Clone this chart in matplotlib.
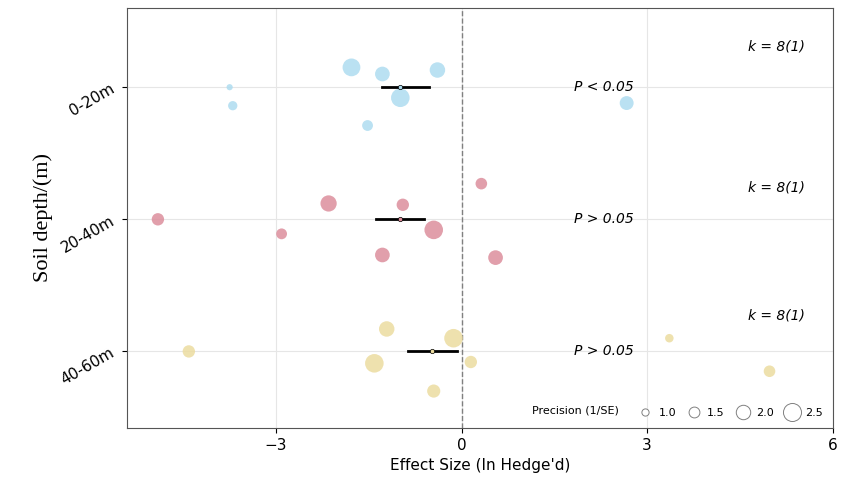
import numpy as np
import matplotlib.pyplot as plt
from matplotlib.lines import Line2D

depths = ["40-60m", "20-40m", "0-20m"]

# effect sizes, y positions (jittered around group level), precision (1/SE)
blue_x = [-1.78, -1.28, -0.39, -0.99, -3.75, -3.70, -1.52, 2.67]
blue_y = [3.15, 3.10, 3.13, 2.92, 3.00, 2.86, 2.71, 2.88]
blue_p = [2.3, 1.9, 2.0, 2.4, 0.8, 1.2, 1.4, 1.8]

red_x = [0.32, -2.15, -0.95, -4.91, -2.91, -0.45, -1.28, 0.55]
red_y = [2.27, 2.12, 2.11, 2.00, 1.89, 1.92, 1.73, 1.71]
red_p = [1.5, 2.1, 1.6, 1.6, 1.4, 2.4, 1.9, 1.9]

yel_x = [-1.21, -0.13, -4.41, -1.41, 0.15, -0.45, 3.36, 4.98]
yel_y = [1.17, 1.10, 1.00, 0.91, 0.92, 0.70, 1.10, 0.85]
yel_p = [2.0, 2.4, 1.6, 2.4, 1.6, 1.7, 1.1, 1.5]

means = [-0.48, -1.0, -1.0]
ci_lo = [-0.87, -1.39, -1.28]
ci_hi = [-0.08, -0.60, -0.52]
p_labels = ["P > 0.05", "P > 0.05", "P < 0.05"]
k_labels = ["k = 8(1)", "k = 8(1)", "k = 8(1)"]
k_y = [1.27, 2.24, 3.31]

colors = ["#ecdca0", "#dc8e9c", "#aedcf0"]

def sz(p):
    return 31 * np.asarray(p) ** 2

fig = plt.figure(figsize=(8.41, 4.96), dpi=100)
ax = fig.add_axes([0.151, 0.137, 0.839, 0.847])

for xs, ys, ps, c in [(yel_x, yel_y, yel_p, colors[0]), (red_x, red_y, red_p, colors[1]), (blue_x, blue_y, blue_p, colors[2])]:
    ax.scatter(xs, ys, s=sz(ps), color=c, alpha=0.85, edgecolors="none", zorder=3)

for i in range(3):
    ax.plot([ci_lo[i], ci_hi[i]], [i + 1, i + 1], color="black", lw=2, zorder=4)
    ax.scatter([means[i]], [i + 1], s=10, color=colors[i], edgecolors="black", linewidths=0.5, zorder=5)
    ax.text(2.3, i + 1, p_labels[i], style="italic", fontsize=10, ha="center", va="center")
    ax.text(5.1, k_y[i], k_labels[i], style="italic", fontsize=10, ha="center", va="center")

ax.axvline(0, color="gray", ls="--", lw=1, zorder=2)
ax.set_xlim(-5.41, 6)
ax.set_ylim(0.42, 3.6)
ax.set_xticks([-3, 0, 3, 6])
ax.set_yticks([1, 2, 3])
ax.set_yticklabels(depths, rotation=30, fontsize=11)
ax.tick_params(axis="x", labelsize=11)
ax.grid(True, color="#e6e6e6", lw=0.8)
ax.set_axisbelow(True)
for s in ax.spines.values():
    s.set_color("#555555")
ax.set_xlabel("Effect Size (In Hedge'd)", fontsize=11)
ax.set_ylabel("Soil depth/(m)", fontsize=16, family="Liberation Serif")

handles = [Line2D([], [], ls="none", marker="o", markersize=np.sqrt(27) * p, markerfacecolor="white",
                  markeredgecolor="gray", markeredgewidth=0.7) for p in [1.0, 1.5, 2.0, 2.5]]
ax.legend(handles, ["1.0", "1.5", "2.0", "2.5"], ncol=4, loc="lower right", frameon=False,
          fontsize=8, handletextpad=0.2, columnspacing=0.6, bbox_to_anchor=(1.0, 0.0))
ax.text(2.55, 0.55, "Precision (1/SE)", fontsize=8, ha="right", va="center")

fig.savefig("out.png", dpi=100)
